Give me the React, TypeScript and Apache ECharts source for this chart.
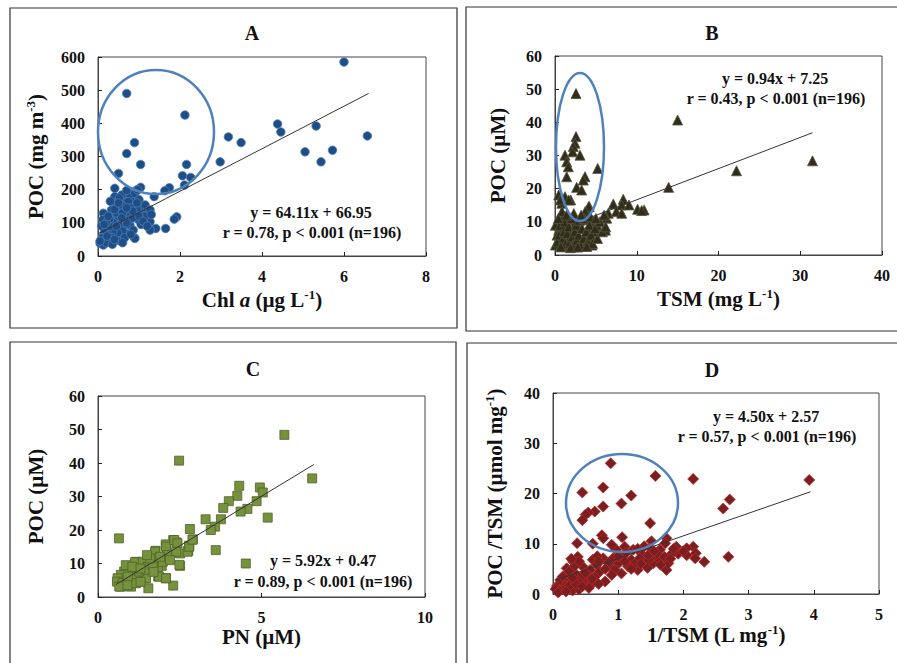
import React, { useEffect, useRef } from "react";
import * as echarts from "echarts";

// ---------- DATA ----------
const panelTitles = ["A", "B", "C", "D"];

// Panel A: Chl a (µg/L) vs POC (mg/m3)
const pointsA: [number, number][] = [
  [6.0, 585], [0.7, 490], [2.12, 425], [4.38, 398], [4.46, 374], [5.32, 392], [6.57, 362],
  [3.18, 359], [3.49, 342], [0.89, 342], [0.7, 309], [5.05, 314], [5.72, 319], [5.44, 284],
  [2.98, 284], [1.04, 276], [2.16, 276], [0.5, 249], [2.06, 242], [2.26, 237], [2.11, 214],
  [1.74, 206], [1.63, 197], [1.04, 207], [0.41, 204], [1.37, 179], [1.92, 118], [1.86, 111],
  [1.65, 83], [1.41, 83], [1.27, 78], [0.89, 55], [1.1, 149], [1.19, 133], [0.86, 169],
  [0.66, 179], [0.82, 189], [0.94, 199], [0.41, 179], [0.58, 184], [0.78, 184], [0.9, 189],
  [0.97, 199], [0.41, 159], [0.62, 161], [0.74, 164], [0.54, 139], [0.33, 139], [0.13, 129],
  [0.32, 118], [0.7, 123], [0.9, 133], [1.15, 154], [1.27, 139], [1.07, 123], [0.98, 110],
  [1.19, 108], [1.27, 103], [0.66, 108], [0.46, 108], [0.25, 98], [0.09, 90], [0.21, 78],
  [0.41, 83], [0.62, 88], [0.78, 93], [0.86, 78], [0.7, 68], [0.54, 63], [0.33, 60],
  [0.17, 53], [0.05, 38], [0.13, 33], [0.29, 43], [0.46, 48], [0.9, 53], [0.38, 100],
  [0.5, 120], [0.55, 95], [0.6, 75], [0.48, 70], [0.36, 72], [0.25, 65], [0.15, 70],
  [0.1, 55], [0.2, 40], [0.35, 35], [0.55, 45], [0.65, 55], [0.75, 108], [0.85, 115],
  [0.95, 140], [1.05, 95], [1.15, 120], [1.3, 125], [0.45, 130], [0.3, 90], [0.6, 150],
  [0.8, 145], [1.0, 170], [0.7, 198], [0.52, 175], [0.05, 45], [0.12, 110], [0.28, 112],
  [0.2, 100], [0.4, 140], [0.6, 130], [0.7, 100], [0.35, 55], [0.45, 90], [0.58, 115],
  [0.25, 120], [0.15, 95], [0.85, 135], [1.0, 120], [0.5, 160], [0.3, 165], [0.7, 145],
  [0.95, 160], [1.1, 105], [1.2, 90], [0.8, 65], [0.6, 40], [0.4, 50], [0.22, 60],
];

// Panel B: TSM (mg/L) vs POC (µM)
const pointsB: [number, number][] = [
  [2.57, 48.7], [15.0, 40.7], [31.5, 28.4], [22.2, 25.4], [13.9, 20.4], [2.57, 35.7],
  [2.45, 33.7], [2.24, 32.7], [2.16, 31.1], [3.06, 30.1], [1.22, 30.1], [1.43, 28.1],
  [1.63, 26.6], [5.22, 26.1], [1.43, 23.6], [3.67, 23.6], [3.46, 22.6], [2.65, 20.4],
  [3.26, 19.6], [1.22, 17.6], [1.92, 16.6], [0.82, 15.6], [4.2, 14.6], [3.88, 13.4],
  [6.52, 12.6], [7.13, 15.4], [8.35, 16.8], [8.16, 15.1], [7.5, 13.1], [8.16, 12.6],
  [9.05, 15.1], [10.1, 13.8], [10.9, 13.6], [10.6, 13.4], [6.32, 11.1], [4.98, 10.0],
  [6.12, 8.0], [5.1, 7.5], [0.45, 18.1], [0.65, 16.6], [1.67, 16.6], [4.12, 14.6],
  [3.7, 13.1], [0.86, 10.6], [1.67, 11.1], [2.49, 9.6], [3.71, 10.6], [4.52, 10.6],
  [5.14, 9.0], [6.16, 7.5], [0.45, 7.5], [1.08, 8.0], [1.6, 7.5], [2.9, 8.0], [4.0, 7.5],
  [4.8, 7.0], [0.45, 4.5], [1.08, 5.5], [1.6, 4.5], [2.9, 5.5], [3.7, 4.5], [4.3, 5.5],
  [0.86, 2.5], [1.67, 2.7], [2.6, 2.5], [3.7, 2.7], [4.52, 3.0], [0.05, 3.0], [0.25, 6.0],
  [0.05, 9.0], [0.86, 13.1], [0.3, 4], [0.5, 6], [0.6, 9], [0.8, 3], [1.0, 5], [1.1, 7],
  [1.2, 10], [1.3, 3.5], [1.5, 6.5], [1.7, 8.5], [1.8, 4], [2.0, 11], [2.1, 5.5], [2.2, 3],
  [2.4, 7], [2.6, 9], [2.7, 4.5], [2.9, 6], [3.0, 10.5], [3.1, 3], [3.3, 8], [3.5, 5],
  [3.6, 11], [3.8, 7], [4.0, 4], [4.2, 9], [4.4, 6], [4.6, 3.5], [4.9, 8], [5.2, 5],
  [5.5, 10], [5.8, 7], [0.4, 11], [1.4, 12], [2.3, 12.5], [3.2, 12], [0.7, 2.5], [1.9, 2.2],
  [2.8, 2.4], [3.9, 2.6], [4.3, 11.5], [5.0, 11], [6.2, 8.5], [6.0, 12],
];

// Panel C: PN (µM) vs POC (µM)
const pointsC: [number, number][] = [
  [5.7, 48.4], [2.48, 40.7], [6.55, 35.4], [4.32, 33.2], [4.95, 32.7], [5.04, 31.2],
  [4.26, 30.2], [4.0, 28.6], [4.85, 28.6], [3.83, 26.6], [4.57, 26.3], [4.36, 25.5],
  [5.19, 23.7], [3.29, 23.2], [3.76, 23.2], [3.58, 21.0], [3.45, 20.0], [2.81, 20.3],
  [0.64, 17.5], [2.9, 17.2], [2.3, 17.0], [2.4, 16.3], [2.07, 15.7], [2.79, 15.3],
  [3.6, 14.0], [1.76, 13.8], [2.51, 13.0], [2.76, 13.8], [4.52, 10.0], [2.51, 9.3],
  [1.95, 9.3], [1.54, 2.6], [2.3, 3.4], [2.07, 5.6], [1.84, 6.1], [1.41, 5.6],
  [1.16, 10.5], [1.13, 10.4], [1.37, 10.5], [1.52, 9.0], [1.75, 13.5], [1.77, 10.5],
  [2.08, 15.0], [2.11, 12.5], [2.33, 17.0], [2.43, 16.0], [2.39, 13.5], [2.49, 9.6],
  [2.74, 13.5], [2.79, 15.0], [2.89, 17.1], [1.83, 8.9], [1.87, 6.1], [2.08, 5.6],
  [1.47, 5.6], [0.96, 8.6], [0.8, 7.6], [0.7, 6.6], [0.6, 5.6], [0.58, 4.6], [0.75, 4.1],
  [0.96, 5.1], [1.16, 6.1], [1.26, 7.6], [1.01, 3.1], [1.16, 4.1], [0.71, 3.1], [0.65, 3.1],
  [0.91, 6.1], [1.47, 8.1], [1.67, 9.6], [1.98, 10.5], [0.85, 9.5], [1.05, 9.0], [1.3, 8.5],
  [1.6, 11.5], [1.9, 12.0], [0.9, 3.5], [1.3, 4.5], [1.7, 7.5], [2.2, 11.0], [1.5, 12.5],
];

// Panel D: 1/TSM (L/mg) vs POC/TSM (µmol/mg)
const pointsD: [number, number][] = [
  [3.93, 22.7], [2.15, 22.9], [0.885, 26.0], [1.57, 23.5], [0.45, 20.2], [0.77, 21.2],
  [1.2, 19.6], [1.05, 18.0], [2.71, 18.8], [2.61, 17.0], [0.77, 17.4], [0.64, 16.4],
  [0.54, 16.2], [0.5, 15.8], [0.45, 14.7], [1.49, 14.1], [0.75, 11.7], [0.77, 11.1],
  [1.06, 11.3], [0.37, 10.1], [0.61, 10.0], [1.51, 10.5], [1.74, 11.1], [1.72, 10.1],
  [2.15, 9.4], [2.05, 9.1], [2.19, 8.1], [2.18, 7.1], [2.32, 6.4], [2.69, 7.4], [1.92, 8.0],
  [1.82, 8.0], [1.74, 4.8], [1.54, 6.1], [1.54, 7.4], [1.64, 8.8], [1.49, 9.1], [1.36, 8.0],
  [1.23, 8.8], [1.1, 9.4], [0.97, 8.8], [1.07, 7.4], [1.2, 6.8], [1.05, 4.1], [0.87, 5.4],
  [0.77, 7.1], [0.61, 6.8], [0.38, 7.4], [0.31, 6.4], [0.21, 5.1], [0.46, 5.4], [0.57, 4.8],
  [0.67, 3.8], [0.8, 2.5], [0.52, 2.8], [0.37, 3.1], [0.27, 2.5], [0.16, 2.2], [0.06, 1.6],
  [0.04, 1.0], [0.18, 1.0], [0.3, 0.7], [0.11, 2.8], [0.43, 2.2], [0.61, 2.2], [0.34, 4.1],
  [0.46, 3.8], [0.67, 5.8], [0.92, 7.1], [1.33, 7.1], [1.46, 6.8], [1.89, 9.4], [1.77, 6.1],
  [1.64, 6.8], [1.3, 4.8], [1.46, 7.7], [1.71, 7.4], [2.05, 7.7], [1.59, 8.0], [0.85, 6.2],
  [1.0, 6.0], [1.15, 5.5], [0.72, 4.5], [0.95, 4.8], [1.25, 6.0], [0.55, 3.5], [0.25, 1.6],
  [0.4, 0.9], [0.1, 0.6], [0.33, 5.5], [0.68, 7.5], [0.9, 9.8], [1.4, 9.5], [1.12, 8.2],
  [0.2, 3.5], [0.35, 2.0], [0.5, 4.2], [0.6, 3.0], [0.7, 6.5], [0.8, 5.0], [0.9, 3.8],
  [1.0, 7.5], [1.1, 6.5], [1.2, 5.0], [1.3, 9.0], [1.35, 6.0], [1.45, 5.2], [1.55, 8.5],
  [1.65, 5.8], [1.8, 7.0], [1.85, 9.0], [2.0, 8.5], [0.25, 4.5], [0.15, 3.5], [0.3, 3.2],
  [0.08, 0.3], [0.2, 0.5], [0.45, 1.5], [0.55, 1.2], [0.7, 2.0], [0.4, 6.5], [0.28, 7.0],
];

// Linear fits: [slope, intercept, xStart, xEnd]
const fitA = [64.11, 66.95, 0.0, 6.6];
const fitB = [0.94, 7.25, 0.3, 31.5];
const fitC = [5.92, 0.47, 0.55, 6.6];
const fitD = [4.5, 2.57, 0.05, 3.95];

const eqTexts = [
  ["y = 64.11x + 66.95", "r = 0.78, p < 0.001 (n=196)"],
  ["y = 0.94x + 7.25", "r = 0.43, p < 0.001 (n=196)"],
  ["y = 5.92x + 0.47", "r = 0.89, p < 0.001 (n=196)"],
  ["y = 4.50x + 2.57", "r = 0.57, p < 0.001 (n=196)"],
];

// axis ranges: [xMin, xMax, xInterval, yMin, yMax, yInterval]
const axisA = [0, 8, 2, 0, 600, 100];
const axisB = [0, 40, 10, 0, 60, 10];
const axisC = [0, 10, 5, 0, 60, 10];
const axisD = [0, 5, 1, 0, 40, 10];

const xNames = [
  "{b|Chl }{i|a}{b| (µg L}{s|-1}{b|)}",
  "{b|TSM (mg L}{s|-1}{b|)}",
  "{b|PN (µM)}",
  "{b|1/TSM (L mg}{s|-1}{b|)}",
];
const yNames = [
  "{b|POC (mg m}{s|-3}{b|)}",
  "{b|POC (µM)}",
  "{b|POC (µM)}",
  "{b|POC /TSM (µmol mg}{s|-1}{b|)}",
];

// ---------- STYLE / LAYOUT ----------
const FONT = "Liberation Serif";
const grids = [
  { left: 98, top: 57, width: 328, height: 199 },
  { left: 555, top: 56, width: 327, height: 199 },
  { left: 98, top: 396, width: 327, height: 201 },
  { left: 553, top: 393, width: 326, height: 201 },
];
const markers = [
  { symbol: "circle", size: 8.5, color: "#1f4e86", border: "#4f7fb8" },
  { symbol: "triangle", size: 10, color: "#302e1b", border: "#55533a" },
  { symbol: "rect", size: 9, color: "#76923c", border: "#4f6228" },
  { symbol: "diamond", size: 11, color: "#7a1f1f", border: "#c0282d" },
];
const titlePos = [[252, 33], [712, 33], [253, 369], [712, 370]];
const eqPos = [
  [[311, 212], [312, 232]],
  [[775, 78], [776, 98]],
  [[323, 560], [323, 581]],
  [[766, 416], [767, 436]],
];
const yNameGap = [50, 45, 50, 46];
const xNameGap = [32, 32, 28, 28];

const richName = {
  b: { fontFamily: FONT, fontWeight: "bold", fontSize: 21, color: "#111", lineHeight: 24 },
  i: { fontFamily: FONT, fontWeight: "bold", fontStyle: "italic", fontSize: 21, color: "#111", lineHeight: 24 },
  s: { fontFamily: FONT, fontWeight: "bold", fontSize: 13, color: "#111", verticalAlign: "top", lineHeight: 24 },
};

function fitLine(f: number[]): [number, number][] {
  return [
    [f[2], f[0] * f[2] + f[1]],
    [f[3], f[0] * f[3] + f[1]],
  ];
}

export default function App() {
  const ref = useRef<HTMLDivElement>(null);
  useEffect(() => {
    if (!ref.current) return;
    const chart = echarts.init(ref.current, undefined, { renderer: "svg" });
    const axes = [axisA, axisB, axisC, axisD];
    const pts = [pointsA, pointsB, pointsC, pointsD];
    const fits = [fitA, fitB, fitC, fitD];

    const xAxis = axes.map((a, i) => ({
      type: "value",
      gridIndex: i,
      min: a[0],
      max: a[1],
      interval: a[2],
      name: xNames[i],
      nameLocation: "middle",
      nameGap: xNameGap[i],
      nameTextStyle: { rich: richName },
      axisLine: { show: true, lineStyle: { color: "#444", width: 1 } },
      axisTick: { show: true, inside: true, length: 4, lineStyle: { color: "#222" } },
      axisLabel: { fontFamily: FONT, fontWeight: "bold", fontSize: 16, color: "#111", margin: 12 },
      splitLine: { show: false },
    }));
    const yAxis = axes.map((a, i) => ({
      type: "value",
      gridIndex: i,
      min: a[3],
      max: a[4],
      interval: a[5],
      name: yNames[i],
      nameLocation: "middle",
      nameRotate: 90,
      nameGap: yNameGap[i],
      nameTextStyle: { rich: richName },
      axisLine: { show: true, lineStyle: { color: "#444", width: 1 } },
      axisTick: { show: true, inside: true, length: 4, lineStyle: { color: "#222" } },
      axisLabel: { fontFamily: FONT, fontWeight: "bold", fontSize: 16, color: "#111", margin: 13 },
      splitLine: { show: false },
    }));

    const series: any[] = [];
    pts.forEach((p, i) => {
      series.push({
        type: "scatter",
        xAxisIndex: i,
        yAxisIndex: i,
        data: p,
        symbol: markers[i].symbol,
        symbolSize: markers[i].size,
        itemStyle: { color: markers[i].color, borderColor: markers[i].border, borderWidth: 0.8, opacity: 1 },
        z: 2,
      });
      series.push({
        type: "line",
        xAxisIndex: i,
        yAxisIndex: i,
        data: fitLine(fits[i]),
        showSymbol: false,
        symbol: "none",
        lineStyle: { color: "#333", width: 1 },
        silent: true,
        z: 3,
      });
    });

    const graphic: any[] = [
      { type: "rect", shape: { x: 10, y: 8, width: 447, height: 320 }, style: { fill: "none", stroke: "#333", lineWidth: 1.2 }, z: 0 },
      { type: "rect", shape: { x: 466, y: 7, width: 440, height: 324 }, style: { fill: "none", stroke: "#333", lineWidth: 1.2 }, z: 0 },
      { type: "rect", shape: { x: 10, y: 342, width: 446, height: 340 }, style: { fill: "none", stroke: "#333", lineWidth: 1.2 }, z: 0 },
      { type: "rect", shape: { x: 467, y: 343, width: 440, height: 340 }, style: { fill: "none", stroke: "#333", lineWidth: 1.2 }, z: 0 },
      { type: "ellipse", shape: { cx: 156, cy: 132, rx: 58, ry: 62 }, style: { fill: "none", stroke: "#4f81bd", lineWidth: 2.5 }, z: 10 },
      { type: "ellipse", shape: { cx: 580, cy: 147, rx: 24, ry: 74 }, style: { fill: "none", stroke: "#4f81bd", lineWidth: 2.5 }, z: 10 },
      { type: "ellipse", shape: { cx: 622, cy: 503, rx: 56, ry: 49 }, style: { fill: "none", stroke: "#4f81bd", lineWidth: 2.5 }, z: 10 },
    ];
    panelTitles.forEach((t, i) => {
      graphic.push({
        type: "text",
        x: titlePos[i][0],
        y: titlePos[i][1],
        style: { text: t, fontFamily: FONT, fontWeight: "bold", fontSize: 20, fill: "#111", align: "center", verticalAlign: "middle" },
        z: 10,
      });
    });
    eqTexts.forEach((lines, i) => {
      lines.forEach((ln, j) => {
        graphic.push({
          type: "text",
          x: eqPos[i][j][0],
          y: eqPos[i][j][1],
          style: { text: ln, fontFamily: FONT, fontWeight: "bold", fontSize: 16, fill: "#111", align: "center", verticalAlign: "middle" },
          z: 10,
        });
      });
    });

    chart.setOption({
      animation: false,
      backgroundColor: "#ffffff",
      grid: grids.map((g) => ({ ...g, show: true, borderColor: "#444", borderWidth: 1, backgroundColor: "transparent" })),
      xAxis,
      yAxis,
      series,
      graphic,
    });
    return () => chart.dispose();
  }, []);
  return <div ref={ref} style={{ position: "fixed", left: 0, top: 0, width: 897, height: 663 }} />;
}
